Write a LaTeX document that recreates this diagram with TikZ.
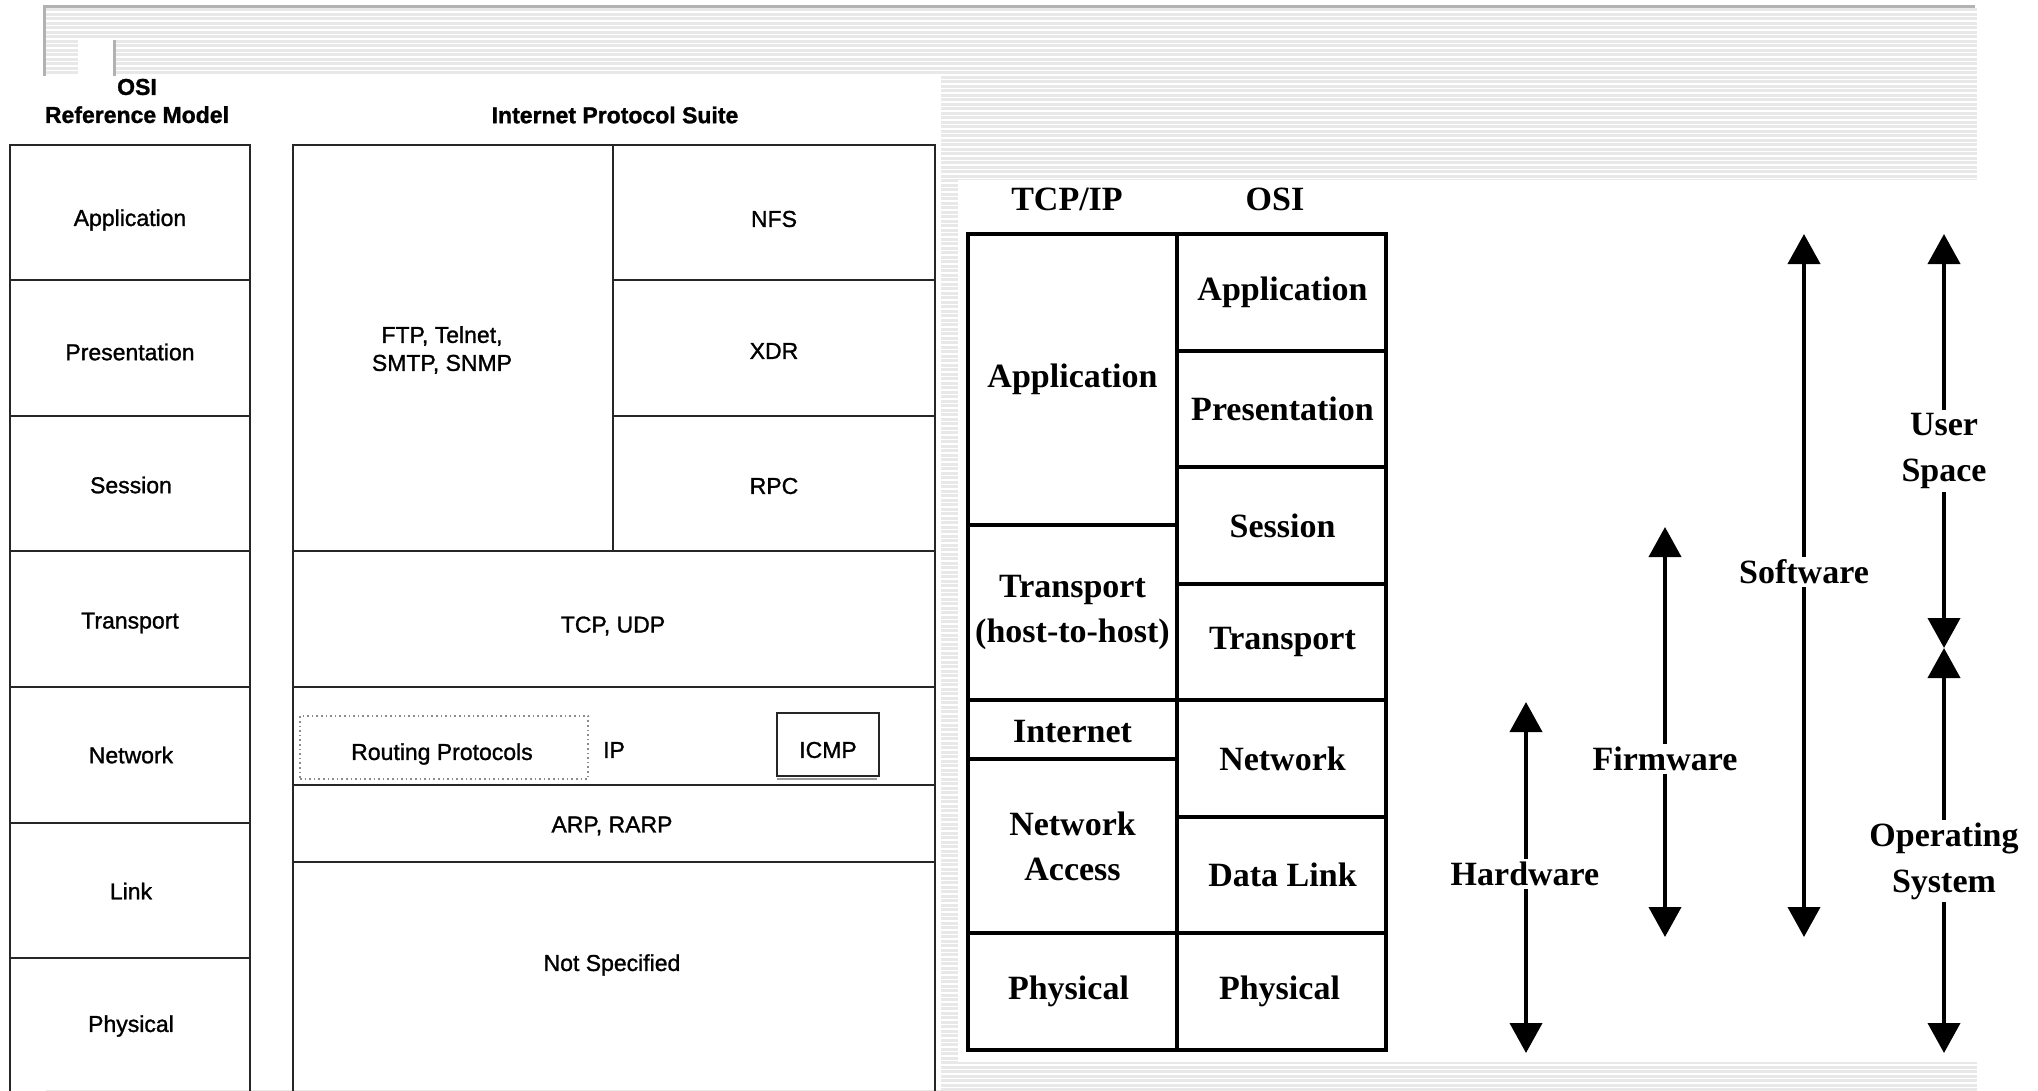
\documentclass[tikz,border=0pt]{standalone}
\usepackage{fontspec}
\setmainfont{Liberation Serif}
\newfontfamily\helv[FakeBold=1.2]{Liberation Sans}
\usetikzlibrary{arrows.meta,fit}

\begin{document}
\begin{tikzpicture}[x=1pt,y=-1pt,
  stripe/.style={fill=black!9},
  frameline/.style={fill=black!30},
  osicell/.style={draw=black!85, line width=2pt, rectangle, inner sep=0pt},
  lblL/.style={inner sep=0pt, font=\helv\fontsize{23}{28}\selectfont, align=center},
  hdrL/.style={inner sep=0pt, font=\helv\bfseries\fontsize{23}{28}\selectfont, align=center},
  dotbox/.style={draw=black!45, line width=1.6pt, dash pattern=on 1.6pt off 3pt,
    rectangle, inner sep=0pt},
  icmpbox/.style={draw=black!85, line width=1.8pt, rectangle, inner sep=0pt},
  tcell/.style={draw=black, line width=4pt, rectangle, inner sep=0pt},
  tlbl/.style={inner sep=0pt, align=center, font=\bfseries\fontsize{34}{45}\selectfont},
  alabel/.style={fill=white, inner sep=3pt, align=center,
    font=\bfseries\fontsize{34}{46}\selectfont},
  span/.style={line width=4pt,
    {Triangle[width=32pt,length=30pt]}-{Triangle[width=32pt,length=30pt]}}
]
\useasboundingbox (0,0) rectangle (2038,1090);
\fill[white] (0,0) rectangle (2038,1090);

% striped backdrop with its grey frame
\foreach \k in {0,...,240}
  \fill[stripe] (46,{8+4.5*\k}) rectangle (1977,{11+4.5*\k});
\fill[frameline] (43,5) rectangle (1975,8);
\fill[frameline] (43,5) rectangle (46,76);
\fill[white] (78,40) rectangle (113,76);
\fill[frameline] (113,40) rectangle (116,76);

% white panels
\fill[white] (0,76) rectangle (941,1090);
\fill[white] (958,180) rectangle (2038,1062);

% ---------- OSI reference model vs. Internet protocol suite ----------
\node[hdrL] (osiHdr) at (137,101) {OSI\\Reference Model};
\node[hdrL] (ipsHdr) at (615,115) {Internet Protocol Suite};

\node[osicell, fit={(10,145)(250,280)}] (oApp) {};
\node[osicell, fit={(10,280)(250,416)}] (oPre) {};
\node[osicell, fit={(10,416)(250,551)}] (oSes) {};
\node[osicell, fit={(10,551)(250,687)}] (oTra) {};
\node[osicell, fit={(10,687)(250,823)}] (oNet) {};
\node[osicell, fit={(10,823)(250,958)}] (oLnk) {};
\node[osicell, fit={(10,958)(250,1094)}] (oPhy) {};
\node[lblL] (oAppL) at (130,220) {Application};
\node[lblL] (oPreL) at (130,352) {Presentation};
\node[lblL] (oSesL) at (131,485) {Session};
\node[lblL] (oTraL) at (130,623) {Transport};
\node[lblL] (oNetL) at (131,755) {Network};
\node[lblL] (oLnkL) at (131,891) {Link};
\node[lblL] (oPhyL) at (131,1026) {Physical};

\node[osicell, fit={(293,145)(613,551)}] (ftp) {};
\node[osicell, fit={(613,145)(935,280)}] (nfs) {};
\node[osicell, fit={(613,280)(935,416)}] (xdr) {};
\node[osicell, fit={(613,416)(935,551)}] (rpc) {};
\node[osicell, fit={(293,551)(935,687)}] (tcpudp) {};
\node[osicell, fit={(293,687)(935,785)}] (ip) {};
\node[dotbox, fit={(300,716)(588,779)}] (routing) {};
\node[icmpbox, fit={(777,713)(879,776)}] (icmp) {};
\draw[black!40, line width=1.5pt] (icmp.south west) ++(1,2) -- ++(100,0);
\node[osicell, fit={(293,785)(935,862)}] (arp) {};
\node[osicell, fit={(293,862)(935,1094)}] (notspec) {};

\node[lblL] (ftpL) at (442,350) {FTP, Telnet,\\SMTP, SNMP};
\node[lblL] (nfsL) at (774,219) {NFS};
\node[lblL] (xdrL) at (774,351) {XDR};
\node[lblL] (rpcL) at (774,486) {RPC};
\node[lblL] (tcpudpL) at (613,626) {TCP, UDP};
\node[lblL] (ipL) at (614,750) {IP};
\node[lblL] (routingL) at (442,754) {Routing Protocols};
\node[lblL] (icmpL) at (828,750) {ICMP};
\node[lblL] (arpL) at (612,826) {ARP, RARP};
\node[lblL] (notspecL) at (612,965) {Not Specified};

% ---------- TCP/IP vs. OSI layers ----------
\node[tlbl] (hTcp) at (1067,199) {TCP/IP};
\node[tlbl] (hOsi) at (1275,199) {OSI};

\node[tcell, fit={(1177,234)(1386,350.6)}] (sApp) {};
\node[tcell, fit={(1177,350.6)(1386,467.1)}] (sPre) {};
\node[tcell, fit={(1177,467.1)(1386,583.7)}] (sSes) {};
\node[tcell, fit={(1177,583.7)(1386,700.3)}] (sTra) {};
\node[tcell, fit={(1177,700.3)(1386,816.9)}] (sNet) {};
\node[tcell, fit={(1177,816.9)(1386,933.4)}] (sDL) {};
\node[tcell, fit={(1177,933.4)(1386,1050)}] (sPhy) {};

\node[tcell, fit={(968,234)(1177,525.4)}] (tApp) {};
\node[tcell, fit={(968,525.4)(1177,700.3)}] (tTra) {};
\node[tcell, fit={(968,700.3)(1177,758.6)}] (tInt) {};
\node[tcell, fit={(968,758.6)(1177,933.4)}] (tNA) {};
\node[tcell, fit={(968,933.4)(1177,1050)}] (tPhy) {};

\node[tlbl] at ([xshift=1]sApp.center) {Application};
\node[tlbl] at ([xshift=1]sPre.center) {Presentation};
\node[tlbl] at ([xshift=1]sSes.center) {Session};
\node[tlbl] at ([xshift=1]sTra.center) {Transport};
\node[tlbl] at ([xshift=1]sNet.center) {Network};
\node[tlbl] at ([xshift=1]sDL.center) {Data Link};
\node[tlbl] at ([xshift=-2]sPhy.center) {Physical};
\node[tlbl] at (tApp.center) {Application};
\node[tlbl] at (tTra.center) {Transport\\(host-to-host)};
\node[tlbl] at ([yshift=-2]tInt.center) {Internet};
\node[tlbl] at (tNA.center) {Network\\Access};
\node[tlbl] at ([xshift=-4]tPhy.center) {Physical};

% ---------- extent arrows ----------
\coordinate (hwTop) at (1526,702);
\coordinate (hwBot) at (1526,1053);
\coordinate (fwTop) at (1665,527);
\coordinate (fwBot) at (1665,937);
\coordinate (swTop) at (1804,234);
\coordinate (swBot) at (1804,937);
\coordinate (usTop) at (1944,234);
\coordinate (usMid) at (1944,648);
\coordinate (osBot) at (1944,1053);

\draw[span] (hwTop) -- (hwBot);
\draw[span] (fwTop) -- (fwBot);
\draw[span] (swTop) -- (swBot);
\draw[span] (usTop) -- (usMid);
\draw[span] (usMid) -- (osBot);

\node[alabel] (hw) at (1525,874) {Hardware};
\node[alabel] (fw) at (1665,759) {Firmware};
\node[alabel] (sw) at (1804,572) {Software};
\node[alabel] (us) at (1944,451) {User\\Space};
\node[alabel] (os) at (1944,861) {Operating\\System};
\end{tikzpicture}
\end{document}
